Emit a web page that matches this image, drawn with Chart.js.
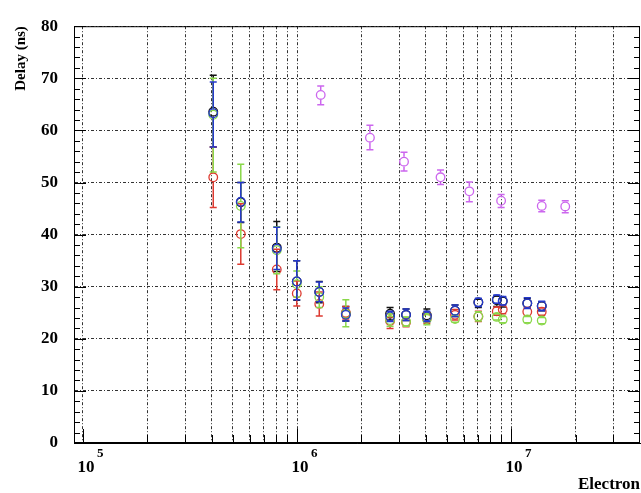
<!DOCTYPE html>
<html>
<head>
<meta charset="utf-8">
<script src="https://cdn.jsdelivr.net/npm/chart.js@4.4.1/dist/chart.umd.min.js"></script>
<style>
html,body{margin:0;padding:0;background:#fff;}
#wrap{width:641px;height:493px;position:relative;}
</style>
</head>
<body>
<div id="wrap"><canvas id="c" width="641" height="493"></canvas></div>
<script>
// ---- data ----
const electrons = [4.06e5, 5.46e5, 8.04e5, 9.97e5, 1.27e6, 1.69e6, 2.72e6, 3.23e6, 4.04e6, 5.47e6, 7.03e6, 8.57e6, 9.14e6, 1.19e7, 1.39e7];

const delayBlue  = [63.3, 46.3, 37.3, 31.0, 29.0, 24.6, 24.3, 24.6, 24.3, 25.4, 27.0, 27.6, 27.3, 26.8, 26.3];
const blueMinus  = [6.5, 3.9, 4.0, 3.5, 1.9, 1.2, 1.0, 1.1, 1.0, 1.1, 0.8, 0.8, 0.8, 1.0, 0.9];
const bluePlus   = [6.0, 3.7, 4.1, 4.0, 1.9, 1.3, 1.0, 1.1, 1.0, 1.1, 0.8, 0.8, 0.8, 1.1, 0.9];

const delayBlack = [63.6, 46.2, 37.5, 31.0, 29.0, 24.8, 24.8, 24.6, 24.5, 25.4, 27.0, 27.4, 27.2, 26.8, 26.3];
const blackMinus = [6.8, 3.9, 4.6, 3.6, 2.1, 1.4, 1.2, 1.1, 1.2, 1.1, 1.0, 1.2, 1.1, 0.9, 0.9];
const blackPlus  = [7.0, 3.8, 5.0, 4.0, 2.0, 1.4, 1.2, 1.1, 1.2, 1.1, 0.6, 0.8, 0.8, 1.0, 0.8];

const delayRed   = [51.0, 40.1, 33.3, 28.7, 26.7, 25.0, 23.4, 23.2, 24.0, 24.6, 24.3, 25.3, 25.6, 25.2, 25.2];
const redMinus   = [5.8, 5.8, 3.9, 2.4, 2.3, 1.2, 1.4, 0.9, 1.0, 1.0, 1.0, 0.8, 0.8, 0.8, 0.7];
const redPlus    = [5.8, 5.8, 3.9, 2.4, 2.3, 1.2, 1.4, 0.9, 1.0, 1.0, 1.0, 0.8, 0.8, 0.8, 0.7];

const delayGreen = [63.0, 45.5, 37.0, 30.5, 28.0, 24.8, 23.6, 23.3, 23.8, 23.8, 24.3, 24.2, 23.7, 23.7, 23.5];
const greenMinus = [11.0, 8.0, 4.5, 2.5, 2.0, 2.5, 1.2, 0.9, 1.1, 0.6, 0.9, 0.6, 0.6, 0.6, 0.6];
const greenPlus  = [7.0, 8.0, 4.5, 2.5, 2.0, 2.7, 1.2, 0.9, 1.1, 0.6, 0.9, 0.6, 0.6, 0.6, 0.6];

const electronsMagenta = [1.29e6, 2.19e6, 3.16e6, 4.68e6, 6.38e6, 8.98e6, 1.39e7, 1.79e7];
const delayMagenta     = [66.8, 58.6, 54.0, 51.0, 48.3, 46.5, 45.5, 45.4];
const magentaMinus     = [1.9, 2.3, 1.8, 1.4, 2.0, 1.3, 1.1, 1.2];
const magentaPlus      = [1.7, 2.4, 1.8, 1.4, 1.8, 1.2, 1.1, 1.1];

// ---- axes ----
const xMin = 9.08e4, xMax = 4.0e7;
const xTickValues = [1e5,2e5,3e5,4e5,5e5,6e5,7e5,8e5,9e5,1e6,2e6,3e6,4e6,5e6,6e6,7e6,8e6,9e6,1e7,2e7,3e7];
const decadeValues = [1e5, 1e6, 1e7];
const decadeBase = '10';
const decadeExponents = ['5', '6', '7'];
const yMin = 0, yMax = 80, yStep = 10, yMinorStep = 2;
const xTitle = 'Electron';
const yTitle = 'Delay (ns)';

const SERIF = '"Liberation Serif", "Times New Roman", serif';

function pts(xs, ys) { return xs.map((x, i) => ({x: x, y: ys[i]})); }
function series(color, xs, ys, minus, plus) {
  return {
    data: pts(xs, ys), errMinus: minus, errPlus: plus,
    borderColor: color, backgroundColor: 'rgba(0,0,0,0)',
    pointStyle: 'circle', pointRadius: 4.3, pointBorderWidth: 1.3, pointHoverRadius: 4.3,
    showLine: false
  };
}

const errorBars = {
  id: 'errorBars',
  afterDatasetDraw(chart, args) {
    const ds = chart.data.datasets[args.index];
    if (!ds.errMinus) return;
    const ctx = chart.ctx, ys = chart.scales.y;
    const r = ds.pointRadius + 0.6, cap = 3.5;
    ctx.save();
    ctx.strokeStyle = ds.borderColor;
    ctx.lineWidth = 1.5;
    args.meta.data.forEach((pt, i) => {
      const d = ds.data[i];
      const yl = ys.getPixelForValue(d.y - ds.errMinus[i]);
      const yh = ys.getPixelForValue(d.y + ds.errPlus[i]);
      const x = pt.x, y = pt.y;
      ctx.beginPath();
      if (yh < y - r) { ctx.moveTo(x, y - r); ctx.lineTo(x, yh); }
      if (yl > y + r) { ctx.moveTo(x, y + r); ctx.lineTo(x, yl); }
      ctx.moveTo(x - cap, yh); ctx.lineTo(x + cap, yh);
      ctx.moveTo(x - cap, yl); ctx.lineTo(x + cap, yl);
      ctx.stroke();
    });
    ctx.restore();
  }
};

const frame = {
  id: 'frame',
  afterDraw(chart) {
    const {ctx, chartArea: a, scales: {x, y}} = chart;
    ctx.save();
    ctx.strokeStyle = '#000';
    ctx.lineWidth = 1;
    ctx.strokeRect(a.left + 0.5, a.top + 0.5, a.right - a.left - 1, a.bottom - a.top - 1);
    ctx.beginPath();
    for (let v = yMin; v <= yMax; v += yMinorStep) {
      const py = Math.round(y.getPixelForValue(v)) + 0.5;
      const len = (v % yStep === 0) ? 12 : 6;
      ctx.moveTo(a.left, py); ctx.lineTo(a.left + len, py);
      ctx.moveTo(a.right, py); ctx.lineTo(a.right - len, py);
    }
    xTickValues.forEach(v => {
      const px = Math.round(x.getPixelForValue(v)) + 0.5;
      const len = decadeValues.includes(v) ? 14 : 8;
      ctx.moveTo(px, a.bottom); ctx.lineTo(px, a.bottom - len);
    });
    ctx.stroke();
    ctx.fillStyle = '#000';
    ctx.textBaseline = 'middle';
    decadeValues.forEach((v, i) => {
      const px = x.getPixelForValue(v);
      ctx.font = 'bold 17px ' + SERIF;
      ctx.textAlign = 'center';
      ctx.fillText(decadeBase, px + 3, 468);
      ctx.font = 'bold 13px ' + SERIF;
      ctx.textAlign = 'left';
      ctx.fillText(decadeExponents[i], px + 14, 454);
    });
    ctx.restore();
  }
};

const gridColor = 'rgba(0,0,0,0.8)';

new Chart(document.getElementById('c'), {
  type: 'scatter',
  data: {
    datasets: [
      series('#cc66ee', electronsMagenta, delayMagenta, magentaMinus, magentaPlus),
      series('#2438cc', electrons, delayBlue, blueMinus, bluePlus),
      series('#8ad84a', electrons, delayGreen, greenMinus, greenPlus),
      series('#dd3a30', electrons, delayRed, redMinus, redPlus),
      series('#111111', electrons, delayBlack, blackMinus, blackPlus)
    ]
  },
  options: {
    responsive: false,
    animation: false,
    devicePixelRatio: 1,
    layout: {autoPadding: false, padding: {left: 0, right: 1, top: 16, bottom: 0}},
    plugins: {legend: {display: false}, tooltip: {enabled: false}},
    scales: {
      x: {
        type: 'logarithmic', min: xMin, max: xMax, position: 'bottom',
        afterBuildTicks(s) { s.ticks = xTickValues.map(v => ({value: v})); },
        afterFit(s) { s.height = 50; },
        ticks: {display: false},
        grid: {color: gridColor, lineWidth: 1, drawTicks: false},
        border: {display: true, color: '#000', width: 1, dash: [3, 2, 1, 2]},
        title: {display: true, text: xTitle, align: 'end', color: '#000',
                font: {family: SERIF, size: 17, weight: 'bold', lineHeight: 1},
                padding: {top: 0, bottom: 0}}
      },
      y: {
        min: yMin, max: yMax,
        afterFit(s) { s.width = 74; },
        ticks: {stepSize: yStep, color: '#000', padding: 16,
                font: {family: SERIF, size: 17, weight: 'bold'}},
        grid: {color: gridColor, lineWidth: 1, drawTicks: false},
        border: {display: true, color: '#000', width: 1, dash: [3, 2, 1, 2]},
        title: {display: true, text: yTitle, align: 'end', color: '#000',
                font: {family: SERIF, size: 15, weight: 'bold', lineHeight: 1.2},
                padding: {top: 12, bottom: 0}}
      }
    }
  },
  plugins: [errorBars, frame]
});
</script>
</body>
</html>
